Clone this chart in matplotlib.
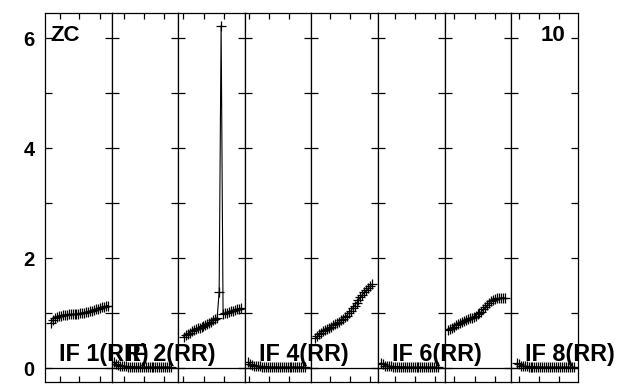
import matplotlib
matplotlib.use('Agg')
import matplotlib.pyplot as plt
import numpy as np

plt.rcParams['font.family'] = ['Liberation Sans', 'DejaVu Sans']

# ---------------- data ----------------
channels = np.arange(30)
if_labels = ['IF 1(RR)', 'IF 2(RR)', None, 'IF 4(RR)', None, 'IF 6(RR)', None, 'IF 8(RR)']

amp_if1 = [0.83, 0.88, 0.92, 0.94, 0.95, 0.96, 0.97, 0.97, 0.97, 0.98,
           0.98, 0.98, 0.98, 0.99, 0.99, 1.00, 1.00, 1.01, 1.02, 1.03,
           1.04, 1.05, 1.06, 1.07, 1.08, 1.09, 1.11, 1.12, 1.13, 1.14]
amp_if2 = [0.12, 0.08, 0.06, 0.05, 0.04, 0.04, 0.035, 0.03, 0.03, 0.03,
           0.03, 0.025, 0.025, 0.025, 0.02, 0.02, 0.02, 0.02, 0.02, 0.02,
           0.02, 0.02, 0.02, 0.02, 0.02, 0.02, 0.02, 0.02, 0.02, 0.02]
amp_if3 = [0.575, 0.60, 0.63, 0.65, 0.67, 0.69, 0.71, 0.73, 0.74, 0.76,
           0.77, 0.79, 0.81, 0.83, 0.85, 0.87, 0.89, 0.92, 1.39, 6.23,
           0.98, 1.00, 1.01, 1.02, 1.04, 1.05, 1.06, 1.07, 1.08, 1.09]
amp_if4 = [0.12, 0.08, 0.06, 0.05, 0.04, 0.04, 0.035, 0.03, 0.03, 0.03,
           0.03, 0.025, 0.025, 0.025, 0.02, 0.02, 0.02, 0.02, 0.02, 0.02,
           0.02, 0.02, 0.02, 0.02, 0.02, 0.02, 0.02, 0.02, 0.02, 0.02]
amp_if5 = [0.545, 0.58, 0.62, 0.65, 0.68, 0.70, 0.72, 0.74, 0.76, 0.78,
           0.80, 0.82, 0.84, 0.87, 0.90, 0.93, 0.96, 1.00, 1.04, 1.09,
           1.14, 1.19, 1.24, 1.29, 1.34, 1.38, 1.42, 1.46, 1.50, 1.53]
amp_if6 = [0.10, 0.07, 0.05, 0.045, 0.04, 0.035, 0.03, 0.03, 0.03, 0.03,
           0.025, 0.025, 0.025, 0.02, 0.02, 0.02, 0.02, 0.02, 0.02, 0.02,
           0.02, 0.02, 0.02, 0.02, 0.02, 0.02, 0.02, 0.02, 0.02, 0.02]
amp_if7 = [0.70, 0.72, 0.74, 0.76, 0.78, 0.80, 0.82, 0.84, 0.86, 0.88,
           0.89, 0.91, 0.92, 0.94, 0.96, 0.98, 1.00, 1.03, 1.07, 1.11,
           1.15, 1.19, 1.22, 1.24, 1.26, 1.27, 1.27, 1.28, 1.28, 1.28]
amp_if8 = [0.09, 0.07, 0.05, 0.045, 0.04, 0.035, 0.03, 0.03, 0.03, 0.03,
           0.025, 0.025, 0.025, 0.02, 0.02, 0.02, 0.02, 0.02, 0.02, 0.02,
           0.02, 0.02, 0.02, 0.02, 0.02, 0.02, 0.02, 0.02, 0.02, 0.02]
amps = [amp_if1, amp_if2, amp_if3, amp_if4, amp_if5, amp_if6, amp_if7, amp_if8]

y_major = [0, 2, 4, 6]
y_minor = [1, 3, 5]
y_labels = ['0', '2', '4', '6']
corner_left = 'ZC'
corner_right = '10'

# ---------------- layout ----------------
W_PX, H_PX = 618, 392
L_PX, R_PX, T_PX, B_PX = 45, 577.7, 13, 382
panel_px = (R_PX - L_PX) / 8
px_per_chan = 1.96
span = panel_px / px_per_chan
# first-channel offset inside each panel (px) and x-tick offsets (px)
start_px = [6.0, 2.7, 5.7, 3.6, 4.0, 3.3, 3.6, 5.7]
tick_px = [[15, 34.3, 55], [12, 32, 52], [5.3, 26, 46], [4.3, 24.3, 44.6],
           [18.7, 38.7, 59], [17.3, 37, 57.3], [9.6, 30.3, 50.3], [8.3, 28.3, 48.3]]

fig = plt.figure(figsize=(W_PX / 100, H_PX / 100), dpi=100)
gs = fig.add_gridspec(1, 8, left=L_PX / W_PX, right=R_PX / W_PX,
                      bottom=1 - B_PX / H_PX, top=1 - T_PX / H_PX, wspace=0)

for i in range(8):
    ax = fig.add_subplot(gs[0, i])
    x0 = -start_px[i] / px_per_chan
    ax.set_xlim(x0, x0 + span)
    ax.set_ylim(-0.249, 6.46)
    ax.plot(channels, amps[i], '-', color='black', lw=0.8,
            marker='+', ms=6.5, mew=0.9)
    ax.axhline(0, color='black', lw=0.9)
    ax.set_xticks([x0 + t / px_per_chan for t in tick_px[i]])
    ax.set_xticklabels([])
    ax.set_yticks(y_major)
    ax.set_yticks(y_minor, minor=True)
    if i == 0:
        ax.set_yticklabels(y_labels, fontsize=14.5, fontweight='bold')
    else:
        ax.set_yticklabels([])
    ax.tick_params(axis='y', which='both', direction='in', length=5,
                   width=0.9, left=True, right=True, pad=7.5)
    ax.tick_params(axis='x', which='both', direction='in', length=4.3,
                   width=0.9, top=True, bottom=True)
    for s in ax.spines.values():
        s.set_linewidth(0.9)
    if if_labels[i]:
        fig.text((L_PX + i * panel_px + 14.0) / W_PX, 1 - 361 / H_PX,
                 if_labels[i], fontsize=16.8, fontweight='bold',
                 ha='left', va='baseline')

fig.text(50.5 / W_PX, 1 - 40.7 / H_PX, corner_left, fontsize=16,
         fontweight='bold', ha='left', va='baseline')
fig.text(565 / W_PX, 1 - 40.7 / H_PX, corner_right, fontsize=16,
         fontweight='bold', ha='right', va='baseline')

fig.savefig('out.png', dpi=100)
